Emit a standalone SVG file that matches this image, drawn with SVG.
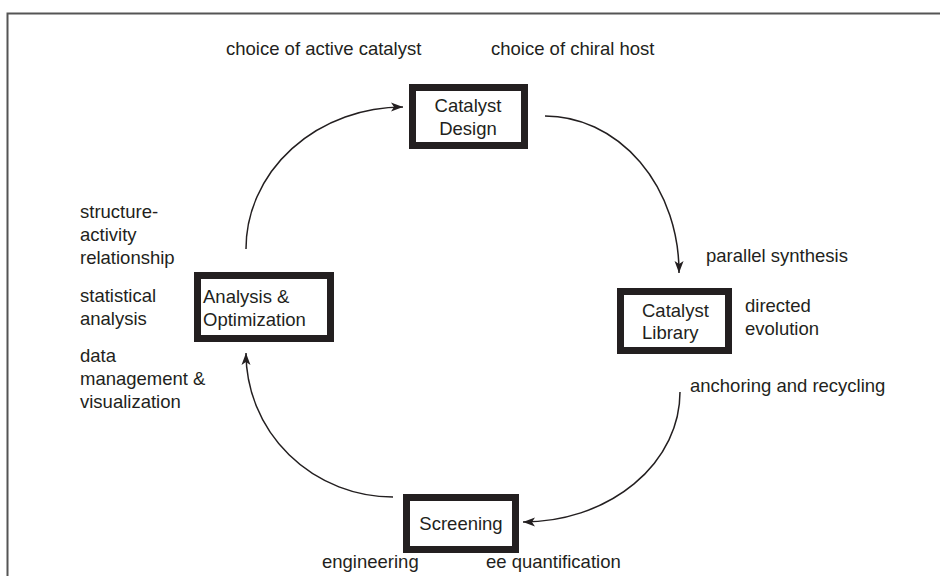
<svg xmlns="http://www.w3.org/2000/svg" width="940" height="576" viewBox="0 0 940 576">
<style>
text{font-family:"Liberation Sans",Arial,sans-serif;font-size:18.5px;fill:#231f20}
.box{fill:#fff;stroke:#231f20;stroke-width:7}
.arc{fill:none;stroke:#231f20;stroke-width:1.5}
</style>
<defs>
<marker id="ah" markerUnits="userSpaceOnUse" markerWidth="14" markerHeight="10" refX="12" refY="5" orient="auto">
<path d="M0,0.5 L12,5 L0,9.5 L3,5 Z" fill="#231f20"/>
</marker>
</defs>
<rect x="7.5" y="13.5" width="940" height="600" fill="none" stroke="#555" stroke-width="2"/>
<g id="connectors">
<path class="arc" d="M545,116 A134,156 0 0 1 679,273" marker-end="url(#ah)"/>
<path class="arc" d="M246,249 A157,142 0 0 1 403,107" marker-end="url(#ah)"/>
<path class="arc" d="M393,497 A147,144 0 0 1 246,353" marker-end="url(#ah)"/>
<path class="arc" d="M680,392 A157,130 0 0 1 523,522" marker-end="url(#ah)"/>
</g>
<g id="catalyst-design">
<rect class="box" x="412.5" y="87.5" width="112" height="58"/>
<text x="468" y="112" text-anchor="middle">Catalyst</text>
<text x="468" y="135" text-anchor="middle">Design</text>
</g>
<g id="catalyst-library">
<rect class="box" x="620.5" y="291.5" width="108" height="59"/>
<text x="642" y="317">Catalyst</text>
<text x="642" y="339">Library</text>
</g>
<g id="screening">
<rect class="box" x="406.5" y="497.5" width="109" height="52"/>
<text x="461" y="530" text-anchor="middle">Screening</text>
</g>
<g id="analysis">
<rect class="box" x="197.5" y="275.5" width="133" height="63"/>
<text x="203" y="303">Analysis &amp;</text>
<text x="203" y="326">Optimization</text>
</g>
<g id="labels">
<text x="226" y="55">choice of active catalyst</text>
<text x="491" y="55">choice of chiral host</text>
<text x="706" y="262">parallel synthesis</text>
<text x="745" y="312">directed</text>
<text x="745" y="335">evolution</text>
<text x="690" y="392">anchoring and recycling</text>
<text x="322" y="568">engineering</text>
<text x="486" y="568">ee quantification</text>
<text x="80" y="218">structure-</text>
<text x="80" y="241">activity</text>
<text x="80" y="264">relationship</text>
<text x="80" y="302">statistical</text>
<text x="80" y="325">analysis</text>
<text x="80" y="362">data</text>
<text x="80" y="385">management &amp;</text>
<text x="80" y="408">visualization</text>
</g>
</svg>
